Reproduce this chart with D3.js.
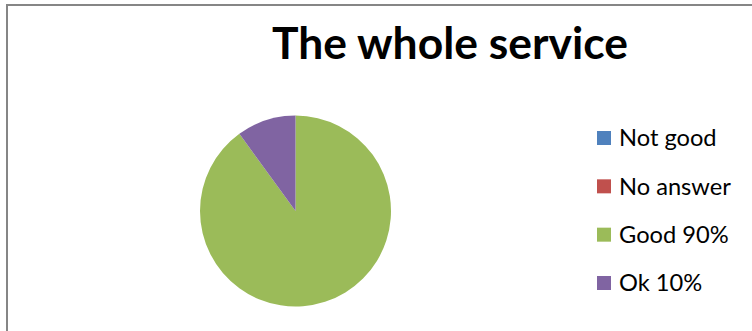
<!DOCTYPE html>
<html>
<head>
<meta charset="utf-8">
<script src="https://cdn.jsdelivr.net/npm/d3@7"></script>
<style>
  body { margin: 0; background: #fff; }
  svg { display: block; }
  text { font-family: Lato, "Open Sans", sans-serif; fill: #000; }
</style>
</head>
<body>
<div id="chart"></div>
<script>
const title = "The whole service";
const categories = ["Not good", "No answer", "Good 90%", "Ok 10%"];
const values = [0, 0, 90, 10];
const colors = ["#4F81BD", "#C0504D", "#9BBB59", "#8064A2"];

const width = 752, height = 331;
const svg = d3.select("#chart").append("svg").attr("width", width).attr("height", height);

// chart area frame (right and bottom edges fall outside the window)
svg.append("rect")
  .attr("x", 7).attr("y", 5)
  .attr("width", 800).attr("height", 400)
  .attr("fill", "none").attr("stroke", "#868686").attr("stroke-width", 2);

// title, sized to the width it has in the picture
const $title = svg.append("text")
  .attr("x", 450).attr("y", 59)
  .attr("text-anchor", "middle")
  .style("font-weight", "bold")
  .style("font-size", "36px")
  .text(title);
const tw = $title.node().getComputedTextLength();
$title.style("font-size", (36 * 356 / tw) + "px");

// pie
const cx = 295.5, cy = 211, r = 95.5;
const pie = d3.pie().sort(null).value((d) => d);
const arc = d3.arc().innerRadius(0).outerRadius(r);
const color = d3.scaleOrdinal().domain(categories).range(colors);

svg.append("g")
  .attr("transform", `translate(${cx},${cy})`)
  .selectAll("path")
  .data(pie(values))
  .enter()
  .append("path")
  .attr("d", arc)
  .attr("fill", (d, i) => color(categories[i]));

// legend
const legendY = d3.scalePoint().domain(categories).range([138, 283]);
const legend = svg.append("g")
  .selectAll("g")
  .data(categories)
  .enter()
  .append("g")
  .attr("transform", (d) => `translate(597,${legendY(d)})`);

legend.append("rect")
  .attr("x", 0).attr("y", -7)
  .attr("width", 14).attr("height", 14)
  .attr("fill", (d) => color(d));

const labels = legend.append("text")
  .attr("x", 22).attr("y", 0)
  .attr("dy", "0.35em")
  .style("font-size", "22px")
  .text((d) => d);

// fit legend font to the reference width of "No answer"
const lw = labels.filter((d) => d === "No answer").node().getComputedTextLength();
labels.style("font-size", (22 * 112 / lw) + "px");
</script>
</body>
</html>
